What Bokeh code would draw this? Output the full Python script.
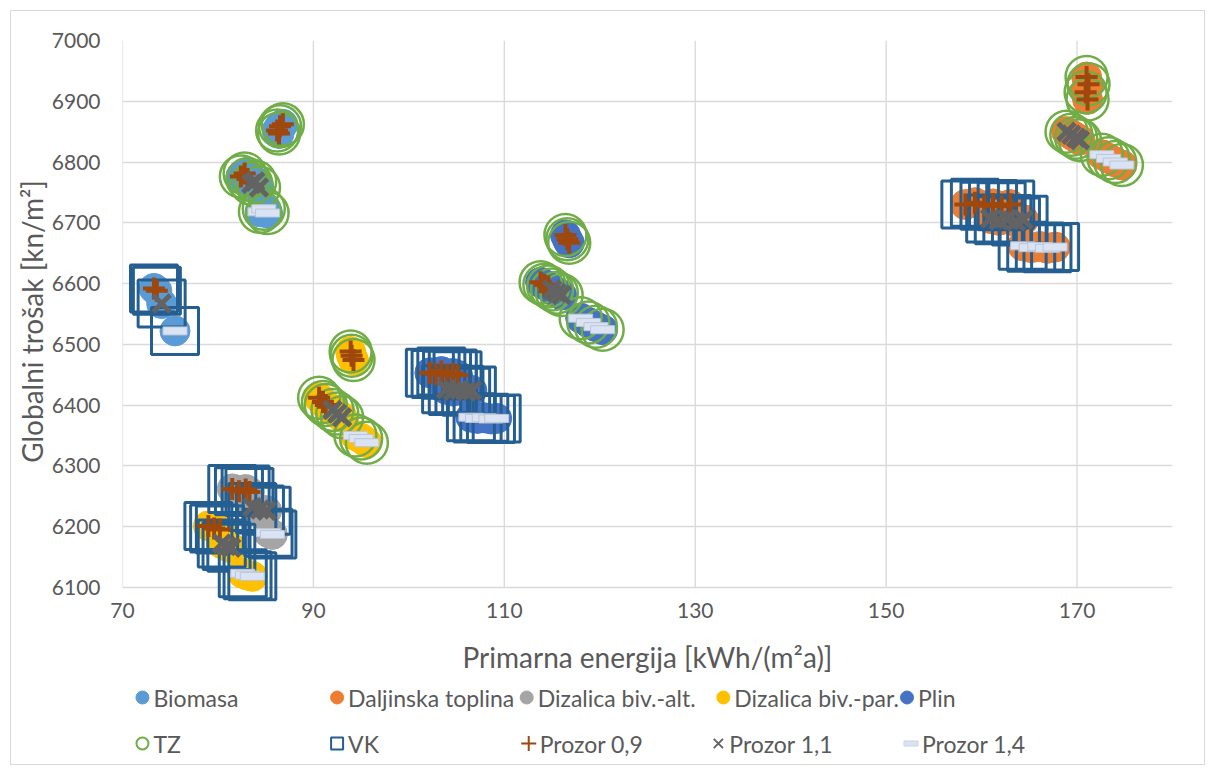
from bokeh.plotting import figure
from bokeh.models import ColumnDataSource, Range1d, FixedTicker
from bokeh.layouts import column
from bokeh.core.properties import value
from bokeh.embed import file_html
from bokeh.resources import INLINE

# ---------------- data ----------------
heating_names = ["Biomasa", "Daljinska toplina", "Dizalica biv.-alt.", "Dizalica biv.-par.", "Plin"]
heating_colors = ["#5B9BD5", "#ED7D31", "#A5A5A5", "#FFC000", "#4472C4"]
building_names = ["TZ", "VK"]
window_names = ["Prozor 0,9", "Prozor 1,1", "Prozor 1,4"]

x_ticks = [70, 90, 110, 130, 150, 170]
y_ticks = [6100, 6200, 6300, 6400, 6500, 6600, 6700, 6800, 6900, 7000]

# primary energy [kWh/(m2a)]
x_vals = [
    # Biomasa TZ
    86.2, 86.5, 86.8, 86.4, 82.4, 82.8, 83.1, 83.5, 83.9, 84.3, 84.4, 84.8, 85.2,
    # Biomasa VK
    73.3, 73.6, 74.1, 75.5,
    # Daljinska toplina TZ
    171.0, 171.2, 170.9, 171.1, 168.9, 169.4, 169.9, 170.3, 172.6, 173.3, 174.0, 174.7,
    # Daljinska toplina VK
    158.3, 159.3, 160.3, 161.2, 162.1, 163.0, 160.9, 161.8, 162.7, 163.6, 164.4,
    164.3, 165.2, 166.1, 166.9, 167.7,
    # Dizalica biv.-alt. VK
    81.5, 82.2, 82.9, 83.3, 83.6, 84.4, 85.1, 85.3, 85.7,
    # Dizalica biv.-par. VK
    79.0, 79.6, 80.2, 80.4, 80.9, 81.4, 82.6, 83.1, 83.6,
    # Dizalica biv.-par. TZ
    93.9, 94.0, 94.2, 90.6, 91.0, 91.3, 92.0, 92.5, 93.0, 94.4, 95.0, 95.6,
    # Plin TZ
    116.4, 116.6, 116.8, 113.8, 114.2, 114.6, 115.0, 115.5, 116.0, 118.0, 118.8, 119.6, 120.3,
    # Plin VK
    102.2, 102.8, 103.4, 104.0, 104.6, 105.1, 103.9, 104.6, 105.3, 106.0, 106.6,
    106.5, 107.2, 107.9, 108.6, 109.2,
]
# global cost [kn/m2]
y_vals = [
    6852, 6859, 6862, 6847, 6776, 6781, 6772, 6764, 6768, 6758, 6718, 6723, 6716,
    6592, 6588, 6567, 6522,
    6940, 6928, 6915, 6903, 6850, 6845, 6840, 6836, 6812, 6806, 6800, 6795,
    6730, 6733, 6728, 6731, 6727, 6730, 6707, 6704, 6706, 6702, 6705,
    6662, 6659, 6661, 6658, 6660,
    6262, 6258, 6261, 6257, 6232, 6228, 6226, 6190, 6187,
    6201, 6197, 6195, 6172, 6168, 6165, 6123, 6120, 6118,
    6488, 6481, 6474, 6412, 6405, 6400, 6392, 6386, 6380, 6350, 6345, 6338,
    6680, 6673, 6667, 6602, 6598, 6595, 6590, 6585, 6581, 6543, 6536, 6529, 6524,
    6453, 6451, 6455, 6450, 6452, 6449, 6426, 6423, 6425, 6422, 6424,
    6380, 6378, 6379, 6377, 6378,
]
heating = (["Biomasa"] * 17 + ["Daljinska toplina"] * 28 + ["Dizalica biv.-alt."] * 9
           + ["Dizalica biv.-par."] * 21 + ["Plin"] * 29)
building = (["TZ"] * 13 + ["VK"] * 4 + ["TZ"] * 12 + ["VK"] * 16 + ["VK"] * 9 + ["VK"] * 9
            + ["TZ"] * 12 + ["TZ"] * 13 + ["VK"] * 16)
window = (
    ["Prozor 0,9"] * 7 + ["Prozor 1,1"] * 3 + ["Prozor 1,4"] * 3
    + ["Prozor 0,9"] * 2 + ["Prozor 1,1"] + ["Prozor 1,4"]
    + ["Prozor 0,9"] * 4 + ["Prozor 1,1"] * 4 + ["Prozor 1,4"] * 4
    + ["Prozor 0,9"] * 6 + ["Prozor 1,1"] * 5 + ["Prozor 1,4"] * 5
    + ["Prozor 0,9"] * 4 + ["Prozor 1,1"] * 3 + ["Prozor 1,4"] * 2
    + ["Prozor 0,9"] * 3 + ["Prozor 1,1"] * 3 + ["Prozor 1,4"] * 3
    + ["Prozor 0,9"] * 6 + ["Prozor 1,1"] * 3 + ["Prozor 1,4"] * 3
    + ["Prozor 0,9"] * 6 + ["Prozor 1,1"] * 3 + ["Prozor 1,4"] * 4
    + ["Prozor 0,9"] * 6 + ["Prozor 1,1"] * 5 + ["Prozor 1,4"] * 5
)

FONT = "Lato"
TXT = "#595959"
OX, OY = 11, 11             # chart box offset (margin + border)
W = 1204 - OX
FL, FR = 120, 1172          # frame left / right (page px)
Y_LOW = 6075                # lets markers near 6100 spill below the last gridline


def subset(key_list, key):
    xs = [x for x, k in zip(x_vals, key_list) if k == key]
    ys = [y for y, k in zip(y_vals, key_list) if k == key]
    return ColumnDataSource(dict(x=xs, y=ys))


# ---------------- main chart ----------------
H1 = 682 - OY
p = figure(width=W, height=H1, output_backend="svg", toolbar_location=None,
           x_range=Range1d(70, 180), y_range=Range1d(Y_LOW, 7000),
           min_border_left=FL - OX, min_border_right=W + OX - FR,
           min_border_top=40 - OY, min_border_bottom=80)
p.outline_line_color = None
p.background_fill_color = "white"
p.border_fill_color = "white"

for ax in (p.xaxis[0], p.yaxis[0]):
    ax.axis_line_color = None
    ax.major_tick_line_color = None
    ax.minor_tick_line_color = None
    ax.major_tick_out = 0
    ax.major_tick_in = 0
    ax.major_label_text_font = FONT
    ax.major_label_text_font_size = "21px"
    ax.major_label_text_color = TXT
    ax.axis_label_text_font = FONT
    ax.axis_label_text_font_size = "28px"
    ax.axis_label_text_font_style = "normal"
    ax.axis_label_text_color = TXT

p.xaxis.ticker = FixedTicker(ticks=x_ticks)
p.yaxis.ticker = FixedTicker(ticks=y_ticks)
p.xaxis.axis_label = "Primarna energija [kWh/(m²a)]"
p.yaxis.axis_label = "Globalni trošak [kn/m²]"
p.xaxis.major_label_standoff = 0
p.yaxis.major_label_standoff = 22
p.xaxis.axis_label_standoff = 19
p.yaxis.axis_label_standoff = 0
p.xgrid.visible = False
p.ygrid.ticker = FixedTicker(ticks=y_ticks)
p.ygrid.grid_line_color = "#D9D9D9"
p.ygrid.grid_line_width = 1.3
# vertical gridlines only over the 6100-7000 value span
p.segment(x0=x_ticks, x1=x_ticks, y0=[y_ticks[0]] * len(x_ticks), y1=[y_ticks[-1]] * len(x_ticks),
          line_color="#D9D9D9", line_width=1.3, level="underlay")

# heating sources: filled circles
for name, col in zip(heating_names, heating_colors):
    p.scatter("x", "y", source=subset(heating, name), marker="circle", size=30,
              fill_color=col, line_color=col, line_width=1)

# building types
p.scatter("x", "y", source=subset(building, "TZ"), marker="circle", size=42,
          fill_color=None, line_color="#70AD47", line_width=2.5)
p.scatter("x", "y", source=subset(building, "VK"), marker="square", size=47,
          fill_color=None, line_color="#255E91", line_width=3)

# windows
p.scatter("x", "y", source=subset(window, "Prozor 0,9"), marker="cross", size=22,
          line_color="#9E480E", line_width=4)
p.scatter("x", "y", source=subset(window, "Prozor 1,1"), marker="x", size=24,
          line_color="#636363", line_width=5)
p.rect("x", "y", source=subset(window, "Prozor 1,4"), width=24, height=8,
       width_units="screen", height_units="screen",
       fill_color="#DAE3F3", line_color="#BCC6D6", line_width=1)

# ---------------- legend (separate strip below the chart) ----------------
LH = 764 - 682
leg = figure(width=W, height=LH, output_backend="svg", toolbar_location=None,
             x_range=Range1d(FL, FR), y_range=Range1d(0, LH),
             min_border_left=FL - OX, min_border_right=W + OX - FR,
             min_border_top=0, min_border_bottom=0,
             x_axis_type=None, y_axis_type=None)
leg.outline_line_color = None
leg.grid.visible = False
leg.background_fill_color = "white"
leg.border_fill_color = "white"

row1_y, row2_y = LH - 15, LH - 61
row1_x = [140, 335, 525, 722, 906]
row2_x = [140, 335, 527, 717, 910]
gap = 11
LFS = "23px"

for name, col, gx in zip(heating_names, heating_colors, row1_x):
    leg.scatter([gx], [row1_y], marker="circle", size=13, fill_color=col, line_color=col)
    leg.text([gx + gap], [row1_y], text=[name], text_font=value(FONT), text_font_size=LFS,
             text_color=TXT, text_baseline="middle", text_align="left")

leg.scatter([row2_x[0]], [row2_y], marker="circle", size=12, fill_color=None,
            line_color="#70AD47", line_width=2)
leg.scatter([row2_x[1]], [row2_y], marker="square", size=12, fill_color=None,
            line_color="#255E91", line_width=2)
leg.scatter([row2_x[2]], [row2_y], marker="cross", size=15, line_color="#9E480E", line_width=2)
leg.scatter([row2_x[3]], [row2_y], marker="x", size=13, line_color="#636363", line_width=2)
leg.rect([row2_x[4]], [row2_y], width=14, height=5, width_units="screen",
         height_units="screen", fill_color="#DAE3F3", line_color="#C9D3E3", line_width=1)
for name, gx in zip(building_names + window_names, row2_x):
    leg.text([gx + gap], [row2_y], text=[name], text_font=value(FONT), text_font_size=LFS,
             text_color=TXT, text_baseline="middle", text_align="left")

layout = column(p, leg, spacing=0, margin=(OY - 1, 0, 0, OX - 1),
                styles={"border": "1px solid #D9D9D9"})
open("out.html", "w").write(file_html(layout, INLINE))
